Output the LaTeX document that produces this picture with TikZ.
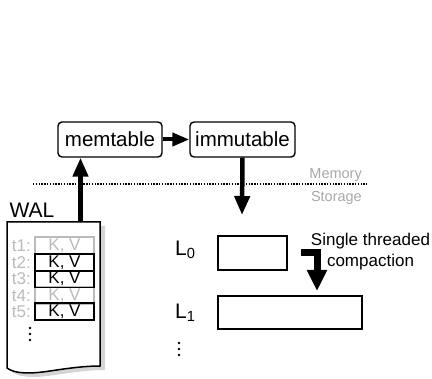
\documentclass[tikz,border=0pt]{standalone}
\usepackage{fontspec}
\setmainfont{Liberation Sans}
\usetikzlibrary{arrows.meta}
\definecolor{lgray}{HTML}{BBBBBB}
\definecolor{tgray}{HTML}{A8A8A8}
\definecolor{shgray}{HTML}{D4D4D4}
\begin{document}
\begin{tikzpicture}[x=1pt,y=-1pt,
  membox/.style={draw, line width=1.4pt, rounded corners=4pt, inner sep=0pt,
    minimum height=35pt, font=\fontsize{20.5}{24}\selectfont},
  bigarrow/.style={line width=4.5pt, -{Triangle[width=15pt,length=19pt]}},
  kvbox/.style={draw, line width=1.4pt, inner sep=0pt, minimum width=59pt,
    minimum height=17pt, font=\fontsize{17}{20}\selectfont},
  tlabel/.style={anchor=east, inner sep=0pt, text=lgray, font=\fontsize{17}{20}\selectfont},
  lvbox/.style={draw, line width=1.5pt, inner sep=0pt},
  lvlabel/.style={anchor=west, inner sep=0pt, font=\fontsize{21}{24}\selectfont},
  dotmark/.style={circle, fill=black, inner sep=0pt, minimum size=2.6pt},
  sidetext/.style={inner sep=0pt, text=tgray, font=\fontsize{14.5}{17}\selectfont}
]
\useasboundingbox (0,0) rectangle (432,379);

% memory / storage boundary
\draw[line width=1.6pt, dash pattern=on 1.4pt off 1.4pt] (33,184) -- (367,184);
\node[sidetext, anchor=east] (mem) at (362,175) {Memory};
\node[sidetext, anchor=east] (sto) at (362,198) {Storage};

% memtable / immutable
\node[membox, minimum width=104pt] (memt) at (110,139.5) {memtable};
\node[membox, minimum width=105pt] (imm) at (242.5,139.5) {immutable};
\draw[line width=4pt, -{Triangle[width=13pt,length=17pt]}] (memt) -- (imm);

% WAL document
\node[inner sep=0pt, font=\fontsize{21}{24}\selectfont] (wal) at (32,210) {WAL};
\fill[shgray, shift={(5,4)}] (7,222) -- (100,222) -- (100,366)
  .. controls (85,366) and (70,368) .. (50,371)
  .. controls (30,374) and (15,374) .. (7,368) -- cycle;
\draw[line width=1.5pt, fill=white] (7,222) -- (100,222) -- (100,366)
  .. controls (85,366) and (70,368) .. (50,371)
  .. controls (30,374) and (15,374) .. (7,368) -- cycle;
\coordinate (waltop) at (80.5,222);
\draw[bigarrow] (waltop) -- (memt.south -| waltop);

% log entries
\node[kvbox, draw=lgray, text=lgray] (e1) at (64.5,245.5) {K, V};
\node[kvbox, draw=lgray, text=lgray] (e4) at (64.5,295.5) {K, V};
\node[kvbox] (e2) at (64.5,262.5) {K, V};
\node[kvbox] (e3) at (64.5,279) {K, V};
\node[kvbox] (e5) at (64.5,311.5) {K, V};
\node[tlabel] (t1) at (31,245.5) {t1:};
\node[tlabel] (t2) at (31,262.5) {t2:};
\node[tlabel] (t3) at (31,279) {t3:};
\node[tlabel] (t4) at (31,295.5) {t4:};
\node[tlabel] (t5) at (31,311.5) {t5:};
\node[dotmark] (wd1) at (30,328) {};
\node[dotmark] (wd2) at (30,334) {};
\node[dotmark] (wd3) at (30,340) {};

% flush arrow
\coordinate (flush) at (242,215);
\draw[bigarrow] (imm.south) -- (flush);

% levels
\node[lvbox, minimum width=69pt, minimum height=34pt] (l0) at (252.5,253) {};
\node[lvbox, minimum width=144pt, minimum height=33pt] (l1) at (290,312.5) {};
\node[lvlabel] (l0lab) at (175,250) {L\textsubscript{0}};
\node[lvlabel] (l1lab) at (175,313) {L\textsubscript{1}};
\node[dotmark] (ld1) at (179,343) {};
\node[dotmark] (ld2) at (179,349) {};
\node[dotmark] (ld3) at (179,355) {};

% compaction
\coordinate (cstart) at (301,252.5);
\coordinate (cend) at (317,291);
\draw[line width=7pt, miter limit=10, -{Triangle[width=19pt,length=21pt]}]
  (cstart) -| (cend);
\node[inner sep=0pt, align=center, font=\fontsize{17}{21}\selectfont] (ctext)
  at (370.5,251.5) {Single threaded\\compaction};
\end{tikzpicture}
\end{document}
